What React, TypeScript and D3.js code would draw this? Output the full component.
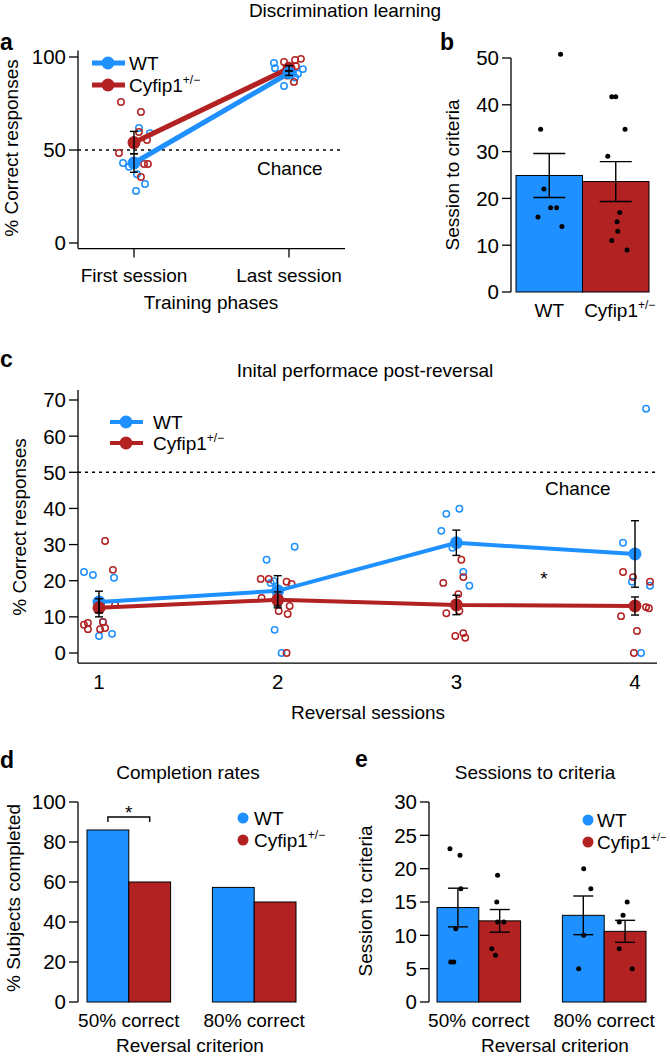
import React from "react";
import * as d3 from "d3";

const FONT = "'Liberation Sans', Arial, Helvetica, sans-serif";
const BLUE = "#1E90FF";
const RED = "#B22222";

// ---------- Panel a ----------
const phases = ["First session", "Last session"];
const aTicks = [0, 50, 100];
const aWTMean = [43, 91.4];
const aWTSE = [5, 1.3];
const aCyMean = [54, 93.9];
const aCySE = [6, 1.5];
const aWTFirst = [61.8, 59, 43, 41, 37, 31.7, 28];
const aWTFirstJit = [0.032, 0.103, -0.071, -0.032, 0.019, 0.071, 0.013];
const aCyFirst = [75.8, 70.4, 59.7, 55.4, 48.4, 42.5, 42.5, 35.5];
const aCyFirstJit = [-0.084, 0.045, 0.032, 0.084, -0.097, 0.065, 0.09, 0.045];
const aWTLast = [96.8, 94, 84.4, 93.5, 91, 89, 91];
const aWTLastJit = [-0.097, -0.09, -0.032, 0.09, 0.058, 0.039, 0.026];
const aCyLast = [97.3, 98.4, 99, 86.6, 91, 90, 95];
const aCyLastJit = [-0.032, 0.039, 0.077, 0.032, -0.039, -0.013, 0.045];

// ---------- Panel b ----------
const genotypes = ["WT", "Cyfip1"];
const bTicks = [0, 10, 20, 30, 40, 50];
const bMean = [24.9, 23.6];
const bSE = [4.7, 4.25];
const bWTDots = [50.8, 34.8, 22, 18, 18, 16, 14];
const bWTJit = [0.17, -0.13, -0.08, 0.02, 0.11, -0.17, 0.19];
const bCyDots = [41.7, 41.7, 34.8, 29, 17, 15, 13, 11, 9];
const bCyJit = [-0.06, 0, 0.14, -0.12, 0.06, 0.02, 0.03, -0.06, 0.17];

// ---------- Panel c ----------
const sessions = [1, 2, 3, 4];
const cTicks = [0, 10, 20, 30, 40, 50, 60, 70];
const cWTMean = [14.1, 17.2, 30.5, 27.4];
const cWTSE = [3, 4.2, 3.5, 9.2];
const cCyMean = [12.5, 14.7, 13.3, 13.0];
const cCySE = [2.5, 2.2, 2.7, 2.5];
const cWTPoints = [
  [22.4, 21.6, 20.8, 8.6, 5.3, 4.7],
  [29.4, 25.8, 19.9, 19.4, 6.4, 0],
  [38.5, 39.9, 33.8, 29.1, 22.4, 18.6],
  [67.6, 30.5, 19.7, 18.6, 0],
];
const cWTJit = [
  [-0.084, -0.034, 0.084, 0.022, 0.073, 0],
  [0.095, -0.062, -0.022, -0.039, -0.017, 0.022],
  [-0.056, 0.017, -0.084, -0.022, 0.039, 0.073],
  [0.062, -0.067, -0.017, 0.084, 0.034],
];
const cCyPoints = [
  [31, 23, 13.3, 7.8, 8.3, 6.6, 6.6, 8.6, 6.9],
  [20.5, 20.5, 19.7, 19.1, 15.2, 13, 11.6, 10.8, 0],
  [25.8, 21, 19.4, 16.3, 11, 4.7, 5.5, 4.2, 11.6],
  [22.4, 21, 19.7, 12.7, 10.2, 6.1, 0, 12.4],
];
const cCyJit = [
  [0.034, 0.078, 0.09, -0.084, -0.062, -0.062, 0.006, 0.022, 0.034],
  [-0.095, -0.05, 0.05, 0.078, -0.09, 0.067, 0.006, 0.056, 0.05],
  [0.028, 0.039, -0.073, 0.011, -0.056, -0.006, 0.039, 0.05, 0.017],
  [-0.067, -0.011, 0.084, 0.062, -0.078, 0.011, -0.006, 0.078],
];

// ---------- Panel d ----------
const criteria = ["50% correct", "80% correct"];
const dTicks = [0, 20, 40, 60, 80, 100];
const dWT = [86, 57.3];
const dCy = [60, 50];

// ---------- Panel e ----------
const eTicks = [0, 5, 10, 15, 20, 25, 30];
const eWTMean = [14.17, 13.0];
const eWTSE = [2.9, 2.9];
const eCyMean = [12.17, 10.6];
const eCySE = [1.7, 1.65];
const eWTDots = [
  [23, 22, 17, 11, 6, 6],
  [20, 17, 10, 5],
];
const eWTJit = [
  [-0.19, 0.05, 0.07, -0.05, -0.17, -0.1],
  [0.01, 0.18, 0.01, -0.11],
];
const eCyDots = [
  [19, 15, 12, 12, 8, 7],
  [15, 13, 12, 8, 5],
];
const eCyJit = [
  [-0.05, -0.07, -0.05, 0.1, -0.19, -0.1],
  [0.05, -0.05, -0.14, -0.14, 0.17],
];

const FS = 19;
const TFS = 20.5;

function YAxis({ scale, ticks, x, y0, y1 }: any) {
  return (
    <g>
      <line x1={x} x2={x} y1={y0} y2={y1} stroke="#000" strokeWidth={1.3} />
      {ticks.map((t: number) => (
        <g key={t}>
          <line x1={x - 9} x2={x} y1={scale(t)} y2={scale(t)} stroke="#000" strokeWidth={1.3} />
          <text x={x - 12} y={scale(t)} dy="0.36em" textAnchor="end" fontSize={TFS}>
            {t}
          </text>
        </g>
      ))}
    </g>
  );
}

function Cy({ x, y, anchor = "start", sup = 12 }: any) {
  return (
    <text x={x} y={y} fontSize={FS} textAnchor={anchor}>
      Cyfip1
      <tspan fontSize={sup} dy={-8}>
        +/−
      </tspan>
    </text>
  );
}

function ErrBar({ x, lo, hi, hw, sw = 1.4 }: any) {
  return (
    <g stroke="#000" strokeWidth={sw}>
      <line x1={x} x2={x} y1={lo} y2={hi} />
      <line x1={x - hw} x2={x + hw} y1={lo} y2={lo} />
      <line x1={x - hw} x2={x + hw} y1={hi} y2={hi} />
    </g>
  );
}

function RotLabel({ x, y, text }: any) {
  return (
    <text
      transform={`translate(${x},${y}) rotate(-90)`}
      textAnchor="middle"
      dominantBaseline="central"
      fontSize={FS}
    >
      {text}
    </text>
  );
}

function PanelA() {
  const x = d3.scaleLinear().domain([0, 1]).range([134, 289]);
  const y = d3.scaleLinear().domain([0, 100]).range([243, 57]);
  const line = d3.line<number>().x((_, i) => x(i)).y((d) => y(d));
  const pts = (vals: number[], jit: number[], i: number, c: string) =>
    vals.map((v, k) => (
      <circle key={c + i + k} cx={x(i + jit[k])} cy={y(v)} r={3.2} fill="none" stroke={c} strokeWidth={1.5} />
    ));
  return (
    <g>
      <text x={0} y={50} fontSize={23} fontWeight="bold">a</text>
      <text x={345} y={17} fontSize={FS} textAnchor="middle">Discrimination learning</text>
      <YAxis scale={y} ticks={aTicks} x={78} y0={y(103.5)} y1={y(-3)} />
      <line x1={78} x2={345} y1={y(-3)} y2={y(-3)} stroke="#000" strokeWidth={1.3} />
      {phases.map((p, i) => (
        <g key={p}>
          <line x1={x(i)} x2={x(i)} y1={y(-3)} y2={y(-3) + 9} stroke="#000" strokeWidth={1.3} />
          <text x={x(i)} y={282} fontSize={FS} textAnchor="middle">{p}</text>
        </g>
      ))}
      <text x={211} y={309} fontSize={FS} textAnchor="middle">Training phases</text>
      <RotLabel x={11} y={148} text="% Correct responses" />
      <line x1={78} x2={343} y1={y(50)} y2={y(50)} stroke="#000" strokeWidth={1.4} strokeDasharray="3,4" />
      <text x={257} y={175} fontSize={FS}>Chance</text>
      {pts(aWTFirst, aWTFirstJit, 0, BLUE)}
      {pts(aCyFirst, aCyFirstJit, 0, RED)}
      {pts(aWTLast, aWTLastJit, 1, BLUE)}
      {pts(aCyLast, aCyLastJit, 1, RED)}
      <path d={line(aCyMean) || ""} fill="none" stroke={RED} strokeWidth={5} />
      <path d={line(aWTMean) || ""} fill="none" stroke={BLUE} strokeWidth={5} />
      {aCyMean.map((m, i) => (
        <circle key={"cm" + i} cx={x(i)} cy={y(m)} r={6.5} fill={RED} />
      ))}
      {aWTMean.map((m, i) => (
        <circle key={"wm" + i} cx={x(i)} cy={y(m)} r={6.5} fill={BLUE} />
      ))}
      {aCyMean.map((m, i) => (
        <ErrBar key={"ce" + i} x={x(i)} lo={y(m - aCySE[i])} hi={y(m + aCySE[i])} hw={4} />
      ))}
      {aWTMean.map((m, i) => (
        <ErrBar key={"we" + i} x={x(i)} lo={y(m - aWTSE[i])} hi={y(m + aWTSE[i])} hw={4} />
      ))}
      <line x1={92} x2={125} y1={63} y2={63} stroke={BLUE} strokeWidth={5} />
      <circle cx={108} cy={63} r={6.5} fill={BLUE} />
      <text x={129} y={70} fontSize={FS}>WT</text>
      <line x1={92} x2={125} y1={85} y2={85} stroke={RED} strokeWidth={5} />
      <circle cx={108} cy={85} r={6.5} fill={RED} />
      <Cy x={129} y={92} />
    </g>
  );
}

function PanelB() {
  const x = d3.scaleBand().domain(genotypes).range([516, 649]).padding(0);
  const y = d3.scaleLinear().domain([0, 50]).range([292, 58]);
  const bw = x.bandwidth();
  const cols = [BLUE, RED];
  const dots = [bWTDots, bCyDots];
  const jits = [bWTJit, bCyJit];
  return (
    <g>
      <text x={440} y={50} fontSize={23} fontWeight="bold">b</text>
      <YAxis scale={y} ticks={bTicks} x={511} y0={y(50)} y1={y(0)} />
      <RotLabel x={452} y={175} text="Session to criteria" />
      {genotypes.map((g, i) => (
        <rect key={g} x={x(g)!} y={y(bMean[i])} width={bw} height={y(0) - y(bMean[i])} fill={cols[i]} stroke="#000" strokeWidth={1} />
      ))}
      {genotypes.map((g, i) =>
        dots[i].map((v, k) => (
          <circle key={g + k} cx={x(g)! + bw / 2 + jits[i][k] * bw} cy={y(v)} r={2.5} fill="#000" />
        ))
      )}
      {genotypes.map((g, i) => (
        <ErrBar key={"e" + g} x={x(g)! + bw / 2} lo={y(bMean[i] - bSE[i])} hi={y(bMean[i] + bSE[i])} hw={16} />
      ))}
      <text x={x("WT")! + bw / 2} y={317} fontSize={FS} textAnchor="middle">WT</text>
      <Cy x={x("Cyfip1")! + bw / 2 + 4} y={317} anchor="middle" />
    </g>
  );
}

function PanelC() {
  const x = d3.scaleLinear().domain([1, 4]).range([99, 635]);
  const y = d3.scaleLinear().domain([0, 70]).range([653, 400]);
  const line = d3.line<number>().x((_, i) => x(sessions[i])).y((d) => y(d));
  return (
    <g>
      <text x={0} y={367} fontSize={23} fontWeight="bold">c</text>
      <text x={365} y={377} fontSize={FS} textAnchor="middle">Inital performace post-reversal</text>
      <YAxis scale={y} ticks={cTicks} x={78} y0={y(72.8)} y1={y(-2.8)} />
      <line x1={78} x2={657} y1={y(-2.8)} y2={y(-2.8)} stroke="#000" strokeWidth={1.3} />
      {sessions.map((s) => (
        <text key={s} x={x(s)} y={689} fontSize={TFS} textAnchor="middle">{s}</text>
      ))}
      <text x={368} y={719} fontSize={FS} textAnchor="middle">Reversal sessions</text>
      <RotLabel x={19} y={527} text="% Correct responses" />
      <line x1={78} x2={655} y1={y(50)} y2={y(50)} stroke="#000" strokeWidth={1.4} strokeDasharray="3,4" />
      <text x={545} y={495} fontSize={FS}>Chance</text>
      <text x={544} y={585} fontSize={FS} textAnchor="middle">*</text>
      {sessions.map((s, i) =>
        cWTPoints[i].map((v, k) => (
          <circle key={"w" + s + k} cx={x(s + cWTJit[i][k])} cy={y(v)} r={3.2} fill="none" stroke={BLUE} strokeWidth={1.5} />
        ))
      )}
      {sessions.map((s, i) =>
        cCyPoints[i].map((v, k) => (
          <circle key={"c" + s + k} cx={x(s + cCyJit[i][k])} cy={y(v)} r={3.2} fill="none" stroke={RED} strokeWidth={1.5} />
        ))
      )}
      <path d={line(cWTMean) || ""} fill="none" stroke={BLUE} strokeWidth={4} />
      <path d={line(cCyMean) || ""} fill="none" stroke={RED} strokeWidth={4} />
      {cWTMean.map((m, i) => (
        <circle key={"wm" + i} cx={x(sessions[i])} cy={y(m)} r={6.5} fill={BLUE} />
      ))}
      {cCyMean.map((m, i) => (
        <circle key={"cm" + i} cx={x(sessions[i])} cy={y(m)} r={6.5} fill={RED} />
      ))}
      {cWTMean.map((m, i) => (
        <ErrBar key={"we" + i} x={x(sessions[i])} lo={y(m - cWTSE[i])} hi={y(m + cWTSE[i])} hw={4} />
      ))}
      {cCyMean.map((m, i) => (
        <ErrBar key={"ce" + i} x={x(sessions[i])} lo={y(m - cCySE[i])} hi={y(m + cCySE[i])} hw={4} />
      ))}
      <line x1={110} x2={143} y1={422} y2={422} stroke={BLUE} strokeWidth={4} />
      <circle cx={126} cy={422} r={6.5} fill={BLUE} />
      <text x={153} y={429} fontSize={FS}>WT</text>
      <line x1={110} x2={143} y1={443} y2={443} stroke={RED} strokeWidth={4} />
      <circle cx={126} cy={443} r={6.5} fill={RED} />
      <Cy x={153} y={450} />
    </g>
  );
}

function PanelD() {
  const x = d3.scaleBand().domain(criteria).range([87, 296]).paddingInner(1 / 3).paddingOuter(0);
  const xs = d3.scaleBand().domain(genotypes).range([0, x.bandwidth()]).padding(0);
  const y = d3.scaleLinear().domain([0, 100]).range([1002, 802]);
  const vals = [dWT, dCy];
  const cols = [BLUE, RED];
  const c0 = x(criteria[0])!;
  return (
    <g>
      <text x={0} y={768} fontSize={23} fontWeight="bold">d</text>
      <text x={188} y={779} fontSize={FS} textAnchor="middle">Completion rates</text>
      <YAxis scale={y} ticks={dTicks} x={78} y0={y(100)} y1={y(0)} />
      <RotLabel x={13} y={898} text="% Subjects completed" />
      {criteria.map((c) =>
        genotypes.map((g, j) => {
          const v = vals[j][criteria.indexOf(c)];
          return (
            <rect key={c + g} x={x(c)! + xs(g)!} y={y(v)} width={xs.bandwidth()} height={y(0) - y(v)} fill={cols[j]} stroke="#000" strokeWidth={1} />
          );
        })
      )}
      {criteria.map((c) => (
        <text key={c} x={x(c)! + x.bandwidth() / 2} y={1027} fontSize={FS} textAnchor="middle">{c}</text>
      ))}
      <text x={190} y={1052} fontSize={FS} textAnchor="middle">Reversal criterion</text>
      <path
        d={`M${c0 + xs.bandwidth() / 2},822 V817 H${c0 + xs.bandwidth() * 1.5} V822`}
        fill="none"
        stroke="#000"
        strokeWidth={1.4}
      />
      <text x={c0 + xs.bandwidth()} y={819} fontSize={FS} textAnchor="middle">*</text>
      <circle cx={243} cy={818} r={5.5} fill={BLUE} />
      <text x={254} y={825} fontSize={FS}>WT</text>
      <circle cx={243} cy={840} r={5.5} fill={RED} />
      <Cy x={254} y={847} />
    </g>
  );
}

function PanelE() {
  const x = d3.scaleBand().domain(criteria).range([437, 646]).paddingInner(1 / 3).paddingOuter(0);
  const xs = d3.scaleBand().domain(genotypes).range([0, x.bandwidth()]).padding(0);
  const y = d3.scaleLinear().domain([0, 30]).range([1002, 802]);
  const means = [eWTMean, eCyMean];
  const ses = [eWTSE, eCySE];
  const dots = [eWTDots, eCyDots];
  const jits = [eWTJit, eCyJit];
  const cols = [BLUE, RED];
  const bw = xs.bandwidth();
  return (
    <g>
      <text x={355} y={767} fontSize={23} fontWeight="bold">e</text>
      <text x={535} y={779} fontSize={FS} textAnchor="middle">Sessions to criteria</text>
      <YAxis scale={y} ticks={eTicks} x={429} y0={y(30)} y1={y(0)} />
      <RotLabel x={365} y={901} text="Session to criteria" />
      {criteria.map((c, ci) =>
        genotypes.map((g, j) => {
          const v = means[j][ci];
          return (
            <rect key={c + g} x={x(c)! + xs(g)!} y={y(v)} width={bw} height={y(0) - y(v)} fill={cols[j]} stroke="#000" strokeWidth={1} />
          );
        })
      )}
      {criteria.map((c, ci) =>
        genotypes.map((g, j) =>
          dots[j][ci].map((v, k) => (
            <circle key={c + g + k} cx={x(c)! + xs(g)! + bw / 2 + jits[j][ci][k] * bw} cy={y(v)} r={2.5} fill="#000" />
          ))
        )
      )}
      {criteria.map((c, ci) =>
        genotypes.map((g, j) => {
          const m = means[j][ci];
          return (
            <ErrBar key={"e" + c + g} x={x(c)! + xs(g)! + bw / 2} lo={y(m - ses[j][ci])} hi={y(m + ses[j][ci])} hw={10} />
          );
        })
      )}
      {criteria.map((c) => (
        <text key={c} x={x(c)! + x.bandwidth() / 2} y={1027} fontSize={FS} textAnchor="middle">{c}</text>
      ))}
      <text x={555} y={1052} fontSize={FS} textAnchor="middle">Reversal criterion</text>
      <circle cx={588} cy={820} r={5.5} fill={BLUE} />
      <text x={597} y={827} fontSize={FS}>WT</text>
      <circle cx={588} cy={842} r={5.5} fill={RED} />
      <Cy x={597} y={849} sup={10.5} />
    </g>
  );
}

export default function App() {
  return (
    <svg
      width={670}
      height={1057}
      viewBox="0 0 670 1057"
      style={{ position: "absolute", left: 0, top: 0, background: "#fff" }}
      fontFamily={FONT}
    >
      <rect x={0} y={0} width={670} height={1057} fill="#fff" />
      <PanelA />
      <PanelB />
      <PanelC />
      <PanelD />
      <PanelE />
    </svg>
  );
}
